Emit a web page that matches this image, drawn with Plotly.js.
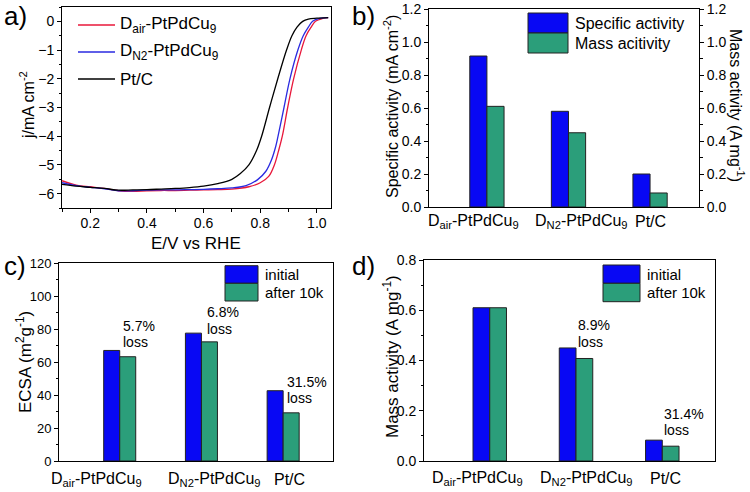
<!DOCTYPE html>
<html><head><meta charset="utf-8">
<script src="https://cdn.plot.ly/plotly-3.0.1.min.js"></script>
<style>html,body{margin:0;padding:0;background:#fff}#chart{width:750px;height:492px}</style>
</head><body><div id="chart"></div>
<script>
// ---- Panel a: LSV curves (E vs RHE, j in mA cm^-2) ----
const E_air = [0.10,0.15,0.20,0.25,0.30,0.35,0.40,0.45,0.50,0.55,0.60,0.65,0.70,0.76,0.80,0.83,0.85,0.865,0.878,0.897,0.918,0.945,0.962,0.98,0.995,1.02,1.04];
const J_air = [-5.55,-5.70,-5.76,-5.82,-5.90,-5.92,-5.90,-5.89,-5.89,-5.88,-5.87,-5.86,-5.84,-5.76,-5.62,-5.40,-5.00,-4.50,-4.00,-3.00,-2.00,-1.00,-0.50,-0.20,0.00,0.10,0.13];
const E_n2 = [0.10,0.15,0.20,0.25,0.30,0.35,0.40,0.45,0.50,0.55,0.60,0.65,0.70,0.75,0.79,0.82,0.84,0.855,0.863,0.884,0.905,0.933,0.952,0.97,0.985,1.01,1.04];
const J_n2 = [-5.62,-5.72,-5.78,-5.83,-5.90,-5.90,-5.88,-5.87,-5.87,-5.86,-5.85,-5.83,-5.80,-5.72,-5.52,-5.22,-4.82,-4.35,-4.00,-3.00,-2.00,-1.00,-0.50,-0.20,0.00,0.10,0.13];
const E_ptc = [0.10,0.15,0.20,0.25,0.30,0.35,0.40,0.45,0.50,0.55,0.60,0.65,0.70,0.73,0.76,0.787,0.805,0.833,0.862,0.893,0.912,0.93,0.95,0.97,1.00,1.04];
const J_ptc = [-5.68,-5.74,-5.78,-5.82,-5.88,-5.87,-5.86,-5.84,-5.82,-5.79,-5.74,-5.65,-5.50,-5.30,-5.00,-4.50,-4.00,-3.00,-2.00,-1.00,-0.50,-0.20,0.00,0.08,0.11,0.13];
const curveNames = ["D<sub>air</sub>-PtPdCu<sub>9</sub>", "D<sub>N2</sub>-PtPdCu<sub>9</sub>", "Pt/C"];

// ---- Bar panels ----
const categories = ["D<sub>air</sub>-PtPdCu<sub>9</sub>", "D<sub>N2</sub>-PtPdCu<sub>9</sub>", "Pt/C"];
const specificActivity = [0.915, 0.58, 0.20];   // mA cm^-2
const massActivity = [0.61, 0.45, 0.085];       // A mg^-1
const ecsaInitial = [67.0, 77.5, 42.6];         // m2 g^-1
const ecsaAfter = [63.2, 72.2, 29.2];
const maInitial = [0.61, 0.45, 0.083];          // A mg^-1
const maAfter = [0.61, 0.408, 0.059];
const ecsaLoss = ["5.7%", "6.8%", "31.5%"];
const maLoss = ["", "8.9%", "31.4%"];
const legendB = ["Specific activity", "Mass acitivity"];
const legendCD = ["initial", "after 10k"];

const W = 750, H = 492;
const FONT = 'Arial, "Liberation Sans", sans-serif';
const BLUE = '#0808F4', GREEN = '#2B9E7A';
const hx = (a, b) => [a / W, b / W];
const vy = (top, bottom) => [1 - bottom / H, 1 - top / H];
const PX = v => v / W, PY = v => 1 - v / H;

const traces = [
  {x: E_air, y: J_air, type: 'scatter', mode: 'lines', name: curveNames[0], line: {color: '#E8173A', width: 1.3, shape: 'spline'}, xaxis: 'x', yaxis: 'y'},
  {x: E_n2, y: J_n2, type: 'scatter', mode: 'lines', name: curveNames[1], line: {color: '#2A2AE0', width: 1.3, shape: 'spline'}, xaxis: 'x', yaxis: 'y'},
  {x: E_ptc, y: J_ptc, type: 'scatter', mode: 'lines', name: curveNames[2], line: {color: '#000000', width: 1.3, shape: 'spline'}, xaxis: 'x', yaxis: 'y'},
  {x: categories, y: specificActivity, type: 'bar', width: 0.21, offset: -0.21, marker: {color: BLUE, line: {color: '#222', width: 1}}, xaxis: 'x2', yaxis: 'y2'},
  {x: categories, y: massActivity, type: 'bar', width: 0.21, offset: 0, marker: {color: GREEN, line: {color: '#222', width: 1}}, xaxis: 'x2', yaxis: 'y3'},
  {x: categories, y: ecsaInitial, type: 'bar', width: 0.196, offset: -0.196, marker: {color: BLUE, line: {color: '#222', width: 1}}, xaxis: 'x3', yaxis: 'y4'},
  {x: categories, y: ecsaAfter, type: 'bar', width: 0.196, offset: 0, marker: {color: GREEN, line: {color: '#222', width: 1}}, xaxis: 'x3', yaxis: 'y4'},
  {x: categories, y: maInitial, type: 'bar', width: 0.194, offset: -0.194, marker: {color: BLUE, line: {color: '#222', width: 1}}, xaxis: 'x4', yaxis: 'y5'},
  {x: categories, y: maAfter, type: 'bar', width: 0.194, offset: 0, marker: {color: GREEN, line: {color: '#222', width: 1}}, xaxis: 'x4', yaxis: 'y5'}
];

const baseAx = {showline: true, linecolor: '#000', linewidth: 1, showgrid: false, zeroline: false,
  tickfont: {family: FONT, size: 14, color: '#000'}, ticks: 'outside', ticklen: 4, tickcolor: '#000', fixedrange: true};
const minor = d => ({dtick: d, ticks: 'outside', ticklen: 2.5, tickcolor: '#000', showgrid: false});
const catAx = (dom, anchor, range) => Object.assign({}, baseAx, {domain: dom, anchor: anchor, type: 'category', range: range,
  mirror: true, ticks: '', showticklabels: false});

const layout = {
  width: W, height: H, margin: {l: 0, r: 0, t: 0, b: 0}, paper_bgcolor: '#fff', plot_bgcolor: '#fff',
  showlegend: false, font: {family: FONT, color: '#000'},
  xaxis: Object.assign({}, baseAx, {domain: hx(62, 331), anchor: 'y', range: [0.1, 1.05], mirror: true,
    tick0: 0.2, dtick: 0.2, tickformat: '.1f', minor: minor(0.1), ticklabelstandoff: -2}),
  yaxis: Object.assign({}, baseAx, {domain: vy(7, 208), anchor: 'x', range: [-6.5, 0.5], mirror: true, dtick: 1, minor: minor(0.5)}),
  xaxis2: catAx(hx(429, 699), 'y2', [-0.71, 2.6]),
  yaxis2: Object.assign({}, baseAx, {domain: vy(9, 207), anchor: 'x2', range: [0, 1.2], dtick: 0.2, tickformat: '.1f', minor: minor(0.1)}),
  yaxis3: Object.assign({}, baseAx, {overlaying: 'y2', side: 'right', anchor: 'x2', range: [0, 1.2], dtick: 0.2, tickformat: '.1f', minor: minor(0.1)}),
  xaxis3: catAx(hx(59, 333), 'y4', [-0.743, 2.61]),
  yaxis4: Object.assign({}, baseAx, {domain: vy(263, 461), anchor: 'x3', range: [0, 120], dtick: 20, minor: minor(10), mirror: true,
    tickfont: {family: FONT, size: 13, color: '#000'}}),
  xaxis4: catAx(hx(424, 715), 'y5', [-0.762, 2.611]),
  yaxis5: Object.assign({}, baseAx, {domain: vy(260, 461), anchor: 'x4', range: [0, 0.8], dtick: 0.2, tickformat: '.1f', minor: minor(0.1), mirror: true}),
  shapes: [], annotations: []
};

const ann = (text, x, y, o) => Object.assign({text: text, x: x, y: y, xref: 'paper', yref: 'paper', showarrow: false,
  xanchor: 'center', yanchor: 'middle', font: {family: FONT, size: 16, color: '#000'}}, o || {});

// category labels under the bar panels (placed like the original, slightly staggered)
const catFont = {family: FONT, size: 16, color: '#000'};
[['x2', 222, [-0.166, 0.16, 0.01]], ['x3', 479, [-0.29, 0.157, 0.082]], ['x4', 478, [-0.145, 0.12, 0.037]]].forEach(p => {
  categories.forEach((c, i) => {
    layout.annotations.push({text: c, x: i + p[2][i], y: PY(p[1]), xref: p[0], yref: 'paper', showarrow: false,
      xanchor: 'center', yanchor: 'middle', font: catFont});
  });
});

// panel labels
const labFont = {family: FONT, size: 26, color: '#000'};
layout.annotations.push(ann('a)', PX(2), PY(16), {xanchor: 'left', font: labFont}));
layout.annotations.push(ann('b)', PX(350), PY(16), {xanchor: 'left', font: labFont}));
layout.annotations.push(ann('c)', PX(2), PY(266), {xanchor: 'left', font: labFont}));
layout.annotations.push(ann('d)', PX(350), PY(266), {xanchor: 'left', font: labFont}));

// axis titles
layout.annotations.push(ann('E/V vs RHE', PX(196), PY(243), {font: {family: FONT, size: 17, color: '#000'}}));
layout.annotations.push(ann('j/mA cm<sup>-2</sup>', PX(27), PY(105), {textangle: -90, font: {family: FONT, size: 16, color: '#000'}}));
layout.annotations.push(ann('Specific activity (mA cm<sup>-2</sup>)', PX(391), PY(107), {textangle: -90, font: {family: FONT, size: 16, color: '#000'}}));
layout.annotations.push(ann('Mass activity (A mg<sup>-1</sup>)', PX(737), PY(105), {textangle: 90, font: {family: FONT, size: 16, color: '#000'}}));
layout.annotations.push(ann('ECSA (m<sup>2</sup>g<sup>-1</sup>)', PX(24), PY(362), {textangle: -90, font: {family: FONT, size: 17, color: '#000'}}));
layout.annotations.push(ann('Mass activity (A mg<sup>-1</sup>)', PX(391), PY(357), {textangle: -90, font: {family: FONT, size: 17, color: '#000'}}));

// legend a (lines + text)
const legA = [['#E8173A', 25], ['#2A2AE0', 52], ['#000000', 79]];
legA.forEach((l, i) => {
  layout.shapes.push({type: 'line', xref: 'paper', yref: 'paper', x0: PX(78), x1: PX(115), y0: PY(l[1]), y1: PY(l[1]), line: {color: l[0], width: 1.3}});
  layout.annotations.push(ann(curveNames[i], PX(118), PY(l[1]), {xanchor: 'left', font: {family: FONT, size: 17, color: '#000'}}));
});

// legend boxes for bar panels
function boxLegend(x0, x1, yTop, yMid, yBot, labels, size) {
  [[BLUE, yTop, yMid], [GREEN, yMid, yBot]].forEach((b, i) => {
    layout.shapes.push({type: 'rect', xref: 'paper', yref: 'paper', x0: PX(x0), x1: PX(x1), y0: PY(b[2]), y1: PY(b[1]),
      fillcolor: b[0], line: {color: '#222', width: 1}});
    layout.annotations.push(ann(labels[i], PX(x1 + 5), PY((b[1] + b[2]) / 2), {xanchor: 'left', font: {family: FONT, size: size, color: '#000'}}));
  });
}
boxLegend(528, 568, 13, 33, 53, legendB, 16);
boxLegend(225, 258, 265.7, 283.3, 301, legendCD, 15);
boxLegend(603, 640, 265, 283.3, 301.7, legendCD, 15);

// loss annotations (data coordinates)
const lossFont = {family: FONT, size: 14, color: '#000'};
const cPos = [[0.02, 81.8, 72.3], [1.04, 90.5, 80.0], [2.02, 47.9, 38.2]];
ecsaLoss.forEach((t, i) => {
  layout.annotations.push({text: t, x: cPos[i][0], y: cPos[i][1], xref: 'x3', yref: 'y4', showarrow: false, xanchor: 'left', yanchor: 'middle', font: lossFont});
  layout.annotations.push({text: 'loss', x: cPos[i][0], y: cPos[i][2], xref: 'x3', yref: 'y4', showarrow: false, xanchor: 'left', yanchor: 'middle', font: lossFont});
});
const dPos = [null, [1.0, 0.541, 0.474], [2.0, 0.186, 0.122]];
maLoss.forEach((t, i) => {
  if (!t) return;
  layout.annotations.push({text: t, x: dPos[i][0], y: dPos[i][1], xref: 'x4', yref: 'y5', showarrow: false, xanchor: 'left', yanchor: 'middle', font: lossFont});
  layout.annotations.push({text: 'loss', x: dPos[i][0], y: dPos[i][2], xref: 'x4', yref: 'y5', showarrow: false, xanchor: 'left', yanchor: 'middle', font: lossFont});
});

Plotly.newPlot('chart', traces, layout, {displayModeBar: false, staticPlot: true});
</script></body></html>
